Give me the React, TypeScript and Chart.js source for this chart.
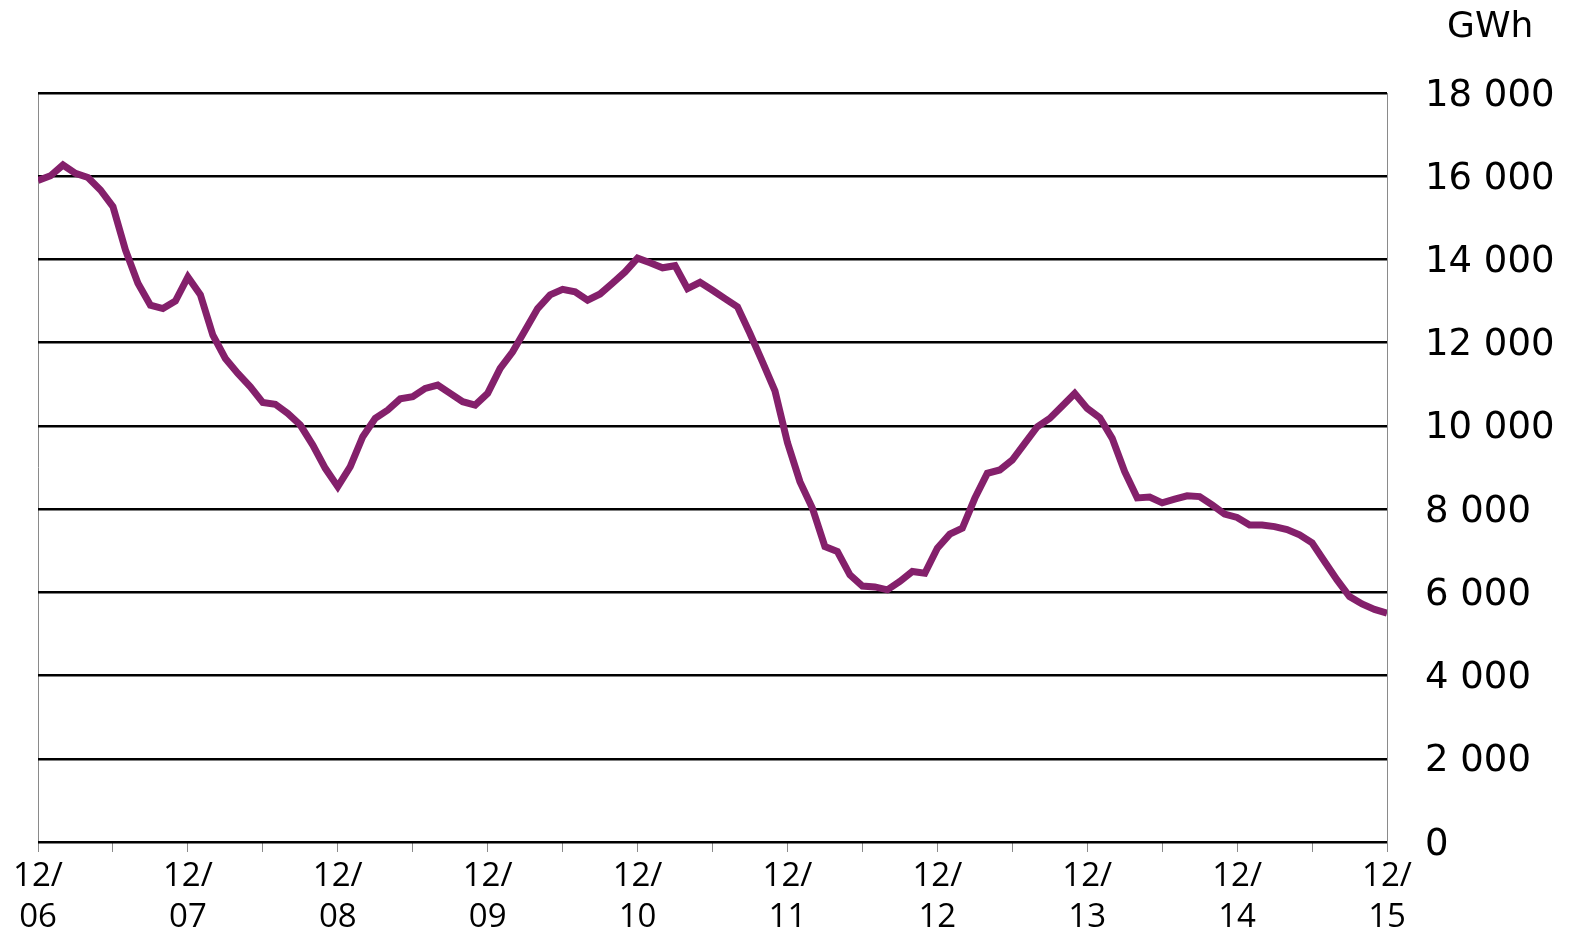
import React, { useEffect, useRef } from 'react';
import { Chart, registerables } from 'chart.js';

Chart.register(...registerables);

// Year labels for the December ticks (12/06 ... 12/15)
const YEAR_LABELS = ['06', '07', '08', '09', '10', '11', '12', '13', '14', '15'];
const MONTH_PREFIX = '12/';
const UNIT = 'GWh';

// Monthly values, Dec 2006 .. Dec 2015 (GWh)
const VALUES_2007 = [15900, 16010, 16270, 16070, 15970, 15670, 15270, 14230, 13430, 12900, 12820, 13000];
const VALUES_2008 = [13580, 13150, 12180, 11620, 11260, 10940, 10560, 10520, 10300, 10020, 9540, 8980];
const VALUES_2009 = [8540, 9020, 9740, 10180, 10380, 10650, 10700, 10900, 10980, 10780, 10580, 10500];
const VALUES_2010 = [10780, 11380, 11780, 12300, 12820, 13150, 13280, 13220, 13020, 13170, 13430, 13700];
const VALUES_2011 = [14030, 13920, 13800, 13850, 13300, 13450, 13260, 13060, 12860, 12220, 11540, 10840];
const VALUES_2012 = [9600, 8660, 8020, 7100, 6980, 6420, 6150, 6130, 6060, 6260, 6500, 6460];
const VALUES_2013 = [7060, 7400, 7540, 8260, 8860, 8940, 9180, 9580, 9980, 10180, 10480, 10780];
const VALUES_2014 = [10420, 10200, 9700, 8900, 8270, 8290, 8150, 8240, 8320, 8300, 8100, 7880];
const VALUES_2015 = [7800, 7620, 7620, 7580, 7510, 7380, 7190, 6740, 6300, 5900, 5720, 5590];
const VALUES_END = [5500];

const SERIES = [
  ...VALUES_2007, ...VALUES_2008, ...VALUES_2009, ...VALUES_2010, ...VALUES_2011,
  ...VALUES_2012, ...VALUES_2013, ...VALUES_2014, ...VALUES_2015, ...VALUES_END,
];

const Y_MIN = 0;
const Y_MAX = 18000;
const Y_STEP = 2000;

function fmt(v: number): string {
  if (v >= 1000) {
    return `${Math.floor(v / 1000)} ${String(v % 1000).padStart(3, '0')}`;
  }
  return String(v);
}

const unitLabel = {
  id: 'unitLabel',
  afterDraw(chart: any) {
    const ctx = chart.ctx;
    ctx.save();
    ctx.font = '36px "DejaVu Sans", Verdana, sans-serif';
    ctx.fillStyle = '#000';
    ctx.textAlign = 'left';
    ctx.textBaseline = 'alphabetic';
    ctx.fillText(UNIT, chart.chartArea.right + 60, chart.chartArea.top - 56);
    ctx.restore();
  },
};

export default function App() {
  const ref = useRef<HTMLCanvasElement | null>(null);

  useEffect(() => {
    if (!ref.current) return;
    const lastIdx = SERIES.length - 1;
    const chart = new Chart(ref.current, {
      type: 'line',
      data: {
        datasets: [
          {
            data: SERIES.map((v, i) => ({ x: i, y: v })),
            borderColor: '#84206B',
            borderWidth: 7,
            pointRadius: 0,
            tension: 0,
            borderJoinStyle: 'miter',
            fill: false,
          },
        ],
      },
      options: {
        animation: false,
        responsive: false,
        devicePixelRatio: 1,
        layout: { padding: { top: 93, left: 38, right: 0, bottom: 0 } },
        plugins: {
          legend: { display: false },
          tooltip: { enabled: false },
          title: { display: false },
        },
        scales: {
          x: {
            type: 'linear',
            min: 0,
            max: lastIdx,
            afterFit: (s: any) => { s.height = 93; },
            ticks: {
              stepSize: 6,
              autoSkip: false,
              maxRotation: 0,
              padding: 4,
              color: '#000',
              font: { family: '"Open Sans", sans-serif', size: 33, lineHeight: 1.24 },
              callback: (value: any) => {
                const v = Number(value);
                if (v % 12 === 0) return [MONTH_PREFIX, YEAR_LABELS[v / 12]];
                return '';
              },
            },
            grid: {
              drawOnChartArea: true,
              drawTicks: true,
              tickLength: 10,
              tickColor: '#8a8a8a',
              tickWidth: 1,
              lineWidth: 1,
              color: (c: any) =>
                c.tick && (c.tick.value === 0 || c.tick.value === lastIdx) ? '#8a8a8a' : 'rgba(0,0,0,0)',
            },
            border: { display: false },
          },
          y: {
            position: 'right',
            min: Y_MIN,
            max: Y_MAX,
            afterFit: (s: any) => { s.width = 182; },
            ticks: {
              stepSize: Y_STEP,
              padding: 38,
              labelOffset: 3,
              color: '#000',
              font: { family: '"DejaVu Sans", Verdana, sans-serif', size: 37 },
              callback: (value: any) => fmt(Number(value)),
            },
            grid: {
              color: '#000',
              lineWidth: 2.5,
              drawTicks: false,
            },
            border: { display: true, color: '#8a8a8a', width: 1 },
          },
        },
      },
      plugins: [unitLabel],
    });
    return () => chart.destroy();
  }, []);

  return (
    <div style={{ position: 'absolute', left: 0, top: 0, width: 1569, height: 935, background: '#fff' }}>
      <canvas ref={ref} width={1569} height={935} style={{ display: 'block' }} />
    </div>
  );
}
